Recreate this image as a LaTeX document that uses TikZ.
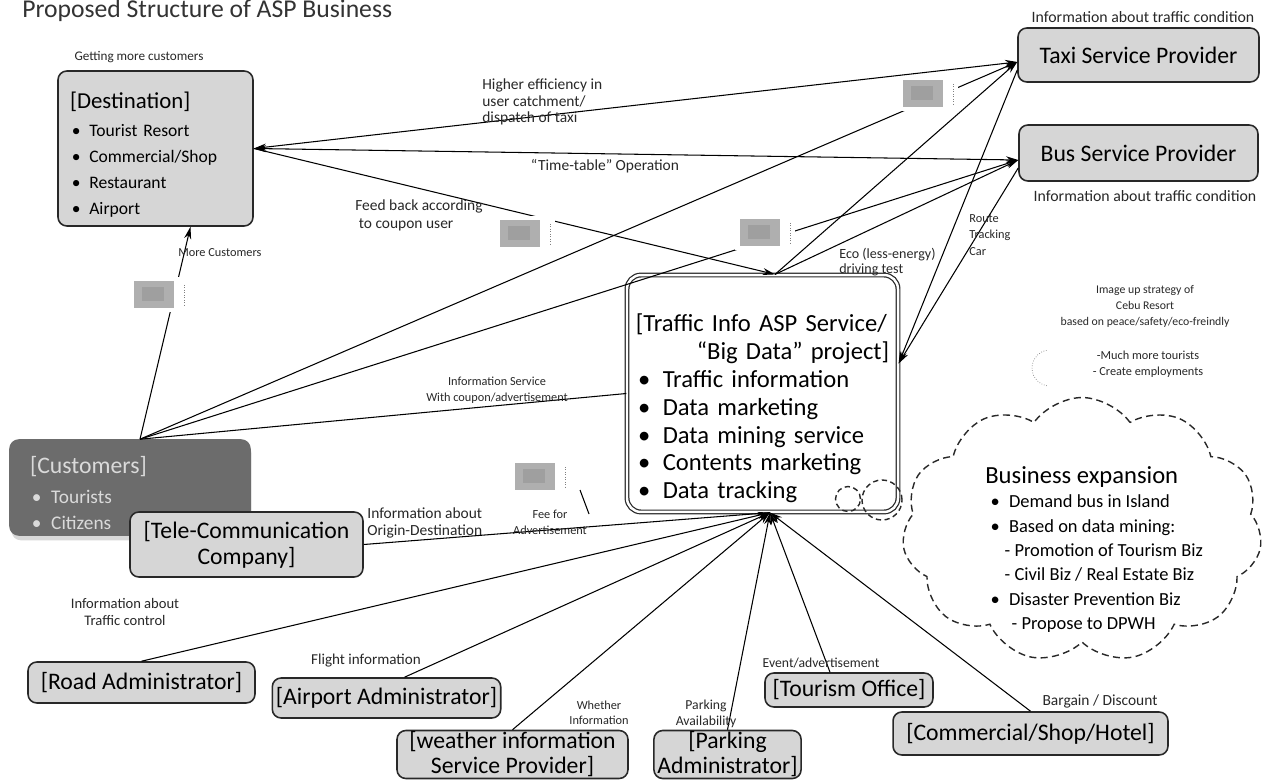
\documentclass[tikz,border=0pt]{standalone}
\usepackage{fontspec}
\setmainfont{Carlito}
\usetikzlibrary{arrows.meta,positioning,shapes.symbols,shadows}

\definecolor{boxgray}{RGB}{214,214,214}
\definecolor{custgray}{RGB}{108,108,108}
\definecolor{custtext}{RGB}{218,218,218}
\definecolor{inkgray}{RGB}{40,40,40}
\definecolor{blurgray}{RGB}{175,175,175}

\newcommand{\dotitem}{\hspace{0.1em}\textbullet\hspace{0.5em}}
\newcommand{\lblsize}[1]{\fontsize{#1}{1.07\dimexpr#1pt\relax}\selectfont}

\tikzset{
  box/.style={draw=inkgray, line width=0.9pt, rounded corners=5pt, fill=boxgray, inner sep=2pt,
    font=\fontsize{13.5}{14.7}\selectfont},
  aspbox/.style={draw=inkgray, double, double distance=1.4pt, line width=0.7pt, fill=white, rounded corners=8pt},
  lbl/.style={font=\fontsize{7}{9.3}\selectfont, text=inkgray, inner sep=0pt},
  conn/.style={draw=black, line width=0.6pt},
  arr/.style={conn, -{Stealth[length=7pt,width=4pt]}},
  arrboth/.style={conn, {Stealth[length=7pt,width=4pt]}-{Stealth[length=7pt,width=4pt]}},
}

\begin{document}
\begin{tikzpicture}[x=0.02cm, y=-0.02cm]
\useasboundingbox (0,0) rectangle (1267,780);
\fill[white] (0,0) rectangle (1267,780);

% Title
\node[anchor=base west, inner sep=0pt, font=\fontsize{14.6}{16}\selectfont, text=black!80] (title) at (22,18) {Proposed Structure of ASP Business};

% Main boxes
\node[box, minimum width=3.9cm, minimum height=3.1cm, inner xsep=6.5pt, text width=3.42cm, align=left,
  font=\fontsize{10}{14.7}\selectfont] (dest) at (155.5,148.5)
  {{\fontsize{13}{15}\selectfont\rule{0pt}{16.5pt}[Destination]}\\[1.2pt] \dotitem Tourist Resort\\ \dotitem Commercial/Shop\\ \dotitem Restaurant\\ \dotitem Airport};
\node[box, minimum width=4.82cm, minimum height=1.08cm] (taxi) at (1138.5,55) {Taxi Service Provider};
\node[box, minimum width=4.78cm, minimum height=1.12cm] (bus) at (1138.5,153) {Bus Service Provider};
\node[aspbox, minimum width=5.42cm, minimum height=4.74cm, inner xsep=5pt, text width=5.07cm, align=left,
  font=\fontsize{14}{15.9}\selectfont] (asp) at (762.5,393.5)
  {\rule{0pt}{27pt}[Traffic Info ASP Service/\\ \mbox{}\hfill``Big Data'' project]\hspace{3pt}\\ \dotitem Traffic information\\ \dotitem Data marketing\\
   \dotitem Data mining service\\ \dotitem Contents marketing\\ \dotitem Data tracking};
\node[box, fill=custgray, draw=custgray, text=custtext, drop shadow={opacity=0.3, shadow xshift=1pt, shadow yshift=-3pt},
  minimum width=4.8cm, minimum height=1.9cm, inner xsep=0.4cm, text width=4cm, align=left,
  font=\fontsize{11}{14.7}\selectfont] (cust) at (130,487.5)
  {{\fontsize{13.5}{15}\selectfont\rule{0pt}{16pt}[Customers]}\\[2pt] \dotitem Tourists\\ \dotitem Citizens};
\node[box, minimum width=4.66cm, minimum height=1.3cm, align=center] (tele) at (246.5,544.5) {[Tele-Communication\\Company]};

% Providers below
\node[box, minimum width=4.54cm, minimum height=0.82cm] (road) at (141.5,682.5) {[Road Administrator]};
\node[box, minimum width=4.18cm, minimum height=0.8cm] (airport) at (386.5,698) {[Airport Administrator]};
\node[box, minimum width=4.62cm, minimum height=0.96cm, inner ysep=0pt, align=center,
  font=\fontsize{13.5}{14.2}\selectfont] (weather) at (512.5,754.5) {[weather information\\Service Provider]};
\node[box, minimum width=2.9cm, minimum height=0.96cm, inner ysep=0pt, align=center,
  font=\fontsize{13.5}{14.2}\selectfont] (parking) at (727.5,754.5) {[Parking\\Administrator]};
\node[box, minimum width=3.36cm, minimum height=0.68cm] (tourism) at (849,690) {[Tourism Office]};
\node[box, minimum width=5.5cm, minimum height=0.86cm] (commercial) at (1030.5,733.5) {[Commercial/Shop/Hotel]};

% Business expansion cloud
\node[cloud, cloud puffs=11, cloud puff arc=110, cloud ignores aspect, draw=inkgray, line width=0.8pt,
  dash pattern=on 4pt off 2.5pt, minimum width=7.2cm, minimum height=5.3cm] (cloud) at (1082,530) {};
\node[circle, draw=inkgray, line width=0.8pt, dash pattern=on 3pt off 2pt, minimum size=0.5cm] (bub1) at (848,499) {};
\node[circle, draw=inkgray, line width=0.8pt, dash pattern=on 3pt off 2pt, minimum size=0.8cm] (bub2) at (882,500) {};
\node[anchor=north west, align=left, inner sep=0pt, font=\fontsize{10.5}{13.9}\selectfont] (bizexp) at (985,466)
  {{\fontsize{14}{15}\selectfont Business expansion}\\[0pt] \hspace{2pt}\dotitem Demand bus in Island\\
   \hspace{2pt}\dotitem Based on data mining:\\ \hspace{11pt}- Promotion of Tourism Biz\\ \hspace{11pt}- Civil Biz / Real Estate Biz\\
   \hspace{2pt}\dotitem Disaster Prevention Biz\\ \hspace{15pt}- Propose to DPWH};

% Connection points
\coordinate (destr) at (dest.east);
\coordinate (taxil) at ([yshift=-0.14cm]taxi.west);
\coordinate (busl) at ([yshift=-0.14cm]bus.west);
\coordinate (asptop) at ([xshift=0.25cm]asp.north);
\coordinate (aspbot) at ([xshift=0.15cm]asp.south);
\coordinate (aspright) at ([yshift=0.6cm]asp.east);
\coordinate (custtop) at ([xshift=0.2cm]cust.north);

% Connectors
\draw[arrboth] (destr) -- (taxil);
\draw[arrboth] (destr) -- (busl);
\draw[arr] (destr) -- (asptop);
\draw[arr] (asptop) -- (taxil);
\draw[arr] (asptop) -- (busl);
\draw[arr] ([yshift=-0.3cm]taxi.west) -- (aspright);
\draw[arr] ([yshift=-0.3cm]bus.west) -- (aspright);
\draw[arr] (custtop) -- ([xshift=0.7cm]dest.south);
\draw[arr] (custtop) -- (taxil);
\draw[arr] (custtop) -- (busl);
\draw[conn] (custtop) -- (asp.west);
\draw[conn] (tele.east) -- (aspbot);
\draw[arr] (road.north) -- (aspbot);
\draw[arr] ([xshift=0.36cm]airport.north) -- (aspbot);
\draw[arr] (weather.north) -- (aspbot);
\draw[arr] (parking.north) -- (aspbot);
\draw[arr] ([xshift=-0.38cm]tourism.north) -- (aspbot);
\draw[arr] (commercial.north) -- (aspbot);

% Blurred pictures on the links
\foreach \ix/\iy in {134/281, 500/220, 740/219, 903/80, 515/463} {
  \fill[white] (\ix-5,\iy-4) rectangle (\ix+55,\iy+31);
  \fill[blurgray] (\ix,\iy) rectangle (\ix+40,\iy+27);
  \fill[gray!75] (\ix+8,\iy+6) rectangle (\ix+30,\iy+20);
  \draw[densely dotted, gray] (\ix+50,\iy+4) -- (\ix+50,\iy+24);
}
\draw[conn] (580,490) -- (589,514);
\draw[densely dotted, gray] (1050,368) ++(100:18) arc (100:260:18);

% Link labels
\node[lbl, font=\lblsize{7.5}] (getmore) at (139,57) {Getting more customers};
\node[lbl, font=\lblsize{9}] (taxiinfo) at (1143,17) {Information about traffic condition};
\node[lbl, font=\lblsize{9}] (businfo) at (1145,196) {Information about traffic condition};
\node[lbl, anchor=west, align=left, font=\lblsize{8.8}] (higher) at (482,102) {Higher efficiency in\\user catchment/\\dispatch of taxi};
\node[lbl, font=\lblsize{8.8}] (timetable) at (605,166) {``Time-table'' Operation};
\node[lbl, anchor=west, align=left, font=\fontsize{8.8}{10.2}\selectfont] (feedback) at (355,215) {Feed back according\\\hspace{2pt}to coupon user};
\node[lbl, anchor=west] (morecust) at (178,253) {More Customers};
\node[lbl, anchor=west, align=left, font=\lblsize{8}] (eco) at (839,262) {Eco (less-energy)\\driving test};
\node[lbl, anchor=west, align=left] (route) at (969,235) {Route\\Tracking\\Car};
\node[lbl, align=center, font=\fontsize{6.7}{9.1}\selectfont] (imageup) at (1145,306) {Image up strategy of\\Cebu Resort\\based on peace/safety/eco-freindly};
\node[lbl, align=center] (muchmore) at (1148,364) {-Much more tourists\\- Create employments};
\node[lbl, align=center] (infoserv) at (497,390) {Information Service\\With coupon/advertisement};
\node[lbl, anchor=west, align=left, font=\fontsize{8.8}{9.6}\selectfont] (infood) at (367,523) {Information about\\Origin-Destination};
\node[lbl, align=center] (feefor) at (550,522) {Fee for\\Advertisement};
\node[lbl, align=center, font=\fontsize{8.3}{9.6}\selectfont] (trafctrl) at (125,612) {Information about\\Traffic control};
\node[lbl, font=\lblsize{8.6}] (flight) at (366,661) {Flight information};
\node[lbl, align=center, font=\fontsize{7}{8.6}\selectfont] (whether) at (599,713) {Whether\\Information};
\node[lbl, align=center, font=\fontsize{7.8}{9.4}\selectfont] (parkav) at (706,714) {Parking\\Availability};
\node[lbl, font=\lblsize{7.8}] (event) at (821,663) {Event/advertisement};
\node[lbl, font=\lblsize{8.8}] (bargain) at (1100,701) {Bargain / Discount};
\end{tikzpicture}
\end{document}
